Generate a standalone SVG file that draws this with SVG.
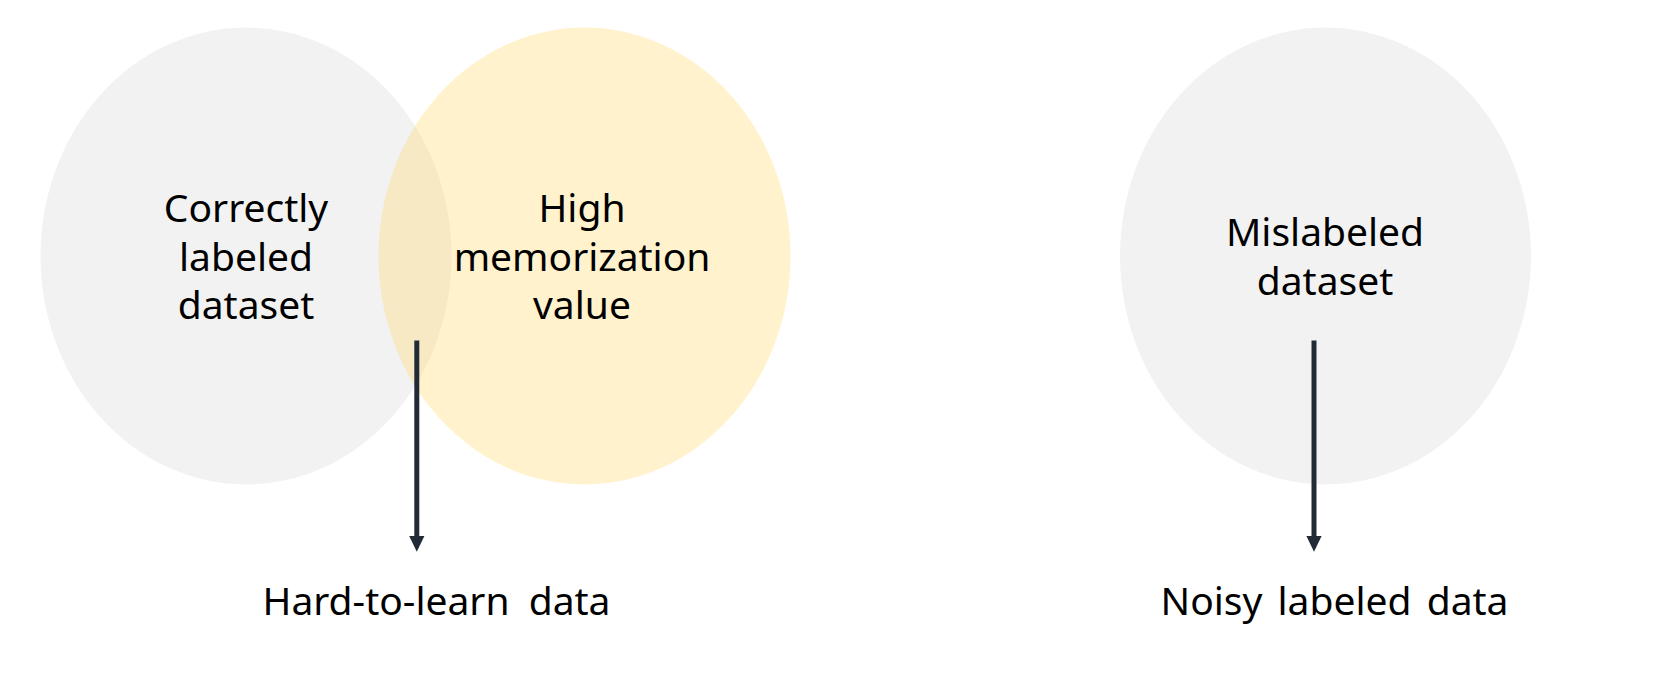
<svg xmlns="http://www.w3.org/2000/svg" width="1664" height="688" viewBox="0 0 1664 688">
<style>
  .grey { fill: #F2F2F2; }
  .yellow { fill: #FFD966; fill-opacity: 0.33; }
  .lbl { font-family: "Noto Sans", "Liberation Sans", sans-serif; font-size: 39px; fill: #000000; text-anchor: middle; }
  .conn { stroke: #222A35; stroke-width: 5; fill: none; }
  .head { fill: #222A35; }
</style>
<rect x="0" y="0" width="1664" height="688" fill="#FFFFFF"/>
<g id="node-correct">
  <ellipse class="grey" cx="246" cy="256" rx="205.5" ry="228.5"/>
  <text class="lbl" x="246" y="222">Correctly</text>
  <text class="lbl" x="246" y="271">labeled</text>
  <text class="lbl" x="246" y="319">dataset</text>
</g>
<g id="node-memo">
  <ellipse class="yellow" cx="584.5" cy="256" rx="206" ry="228.5"/>
  <text class="lbl" x="582" y="222">High</text>
  <text class="lbl" x="582" y="271">memorization</text>
  <text class="lbl" x="582" y="319">value</text>
</g>
<g id="node-mislabeled">
  <ellipse class="grey" cx="1325.5" cy="256" rx="205.5" ry="228.5"/>
  <text class="lbl" x="1325" y="246">Mislabeled</text>
  <text class="lbl" x="1325" y="295">dataset</text>
</g>
<g id="node-hard">
  <text class="lbl" x="436.5" y="615" word-spacing="9">Hard-to-learn data</text>
</g>
<g id="node-noisy">
  <text class="lbl" x="1334.5" y="615" word-spacing="5">Noisy labeled data</text>
</g>
<g id="connectors">
  <line class="conn" x1="416.8" y1="340.5" x2="416.8" y2="537"/>
  <polygon class="head" points="409.2,536 424.4,536 416.8,551.8"/>
  <line class="conn" x1="1314" y1="340.5" x2="1314" y2="537"/>
  <polygon class="head" points="1306.4,536 1321.6,536 1314,551.8"/>
</g>
</svg>
